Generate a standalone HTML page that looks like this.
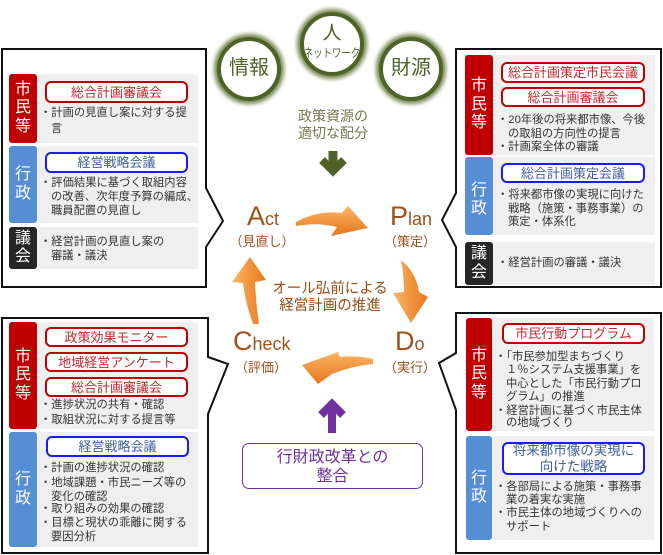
<!DOCTYPE html>
<html><head><meta charset="utf-8">
<style>
*{margin:0;padding:0}
body{width:663px;height:555px;position:relative;background:#fff;overflow:hidden;font-family:"Liberation Sans","Noto Sans CJK JP",sans-serif}
.lab{position:absolute;color:#fff;font-size:16px;line-height:18.5px;display:flex;flex-direction:column;justify-content:center;align-items:center;border-radius:3px;text-align:center}
.red{background:#c00000}
.blu{background:#558ed5}
.blk{background:#262626}
.g{position:absolute;background:#efefef}
.rb,.bb{position:absolute;border:2px solid #c00000;border-radius:6px;background:#fff;color:#c0282d;font-size:13px;line-height:15px;text-align:center;box-sizing:border-box;display:flex;align-items:center;justify-content:center;white-space:nowrap}
.bb{border-color:#1a1aff;color:#3f5f9f}
.t{position:absolute;font-size:11.3px;line-height:14px;white-space:nowrap;color:#333}
.pd{position:absolute;color:#a0501a;white-space:nowrap;line-height:1}
.big{font-size:27px}
.sm{font-size:18px}
.par{position:absolute;color:#a0501a;font-size:13px;line-height:14px;white-space:nowrap;text-align:center;width:80px}
.circ{position:absolute;color:#4f6228;text-align:center;white-space:nowrap}
</style></head><body>
<svg width="663" height="555" style="position:absolute;left:0;top:0">
<defs>
<linearGradient id="og" x1="0" y1="0" x2="0" y2="1"><stop offset="0" stop-color="#fbb565"/><stop offset="1" stop-color="#e8761c"/></linearGradient>
<linearGradient id="og2" x1="0" y1="0" x2="1" y2="0"><stop offset="0" stop-color="#fbb565"/><stop offset="1" stop-color="#e8761c"/></linearGradient>
<filter id="bl" x="-30%" y="-30%" width="160%" height="160%"><feGaussianBlur stdDeviation="2.2"/></filter>
</defs>
<!-- callouts -->
<path d="M2,49 H206 V188 L223,221 L206,247 V287 H2 Z" fill="#fff" stroke="#111" stroke-width="2"/>
<path d="M456,49 H661 V287 H456 V247 L442,220 L456,193 Z" fill="#fff" stroke="#111" stroke-width="2"/>
<path d="M2,318 H208 V357 L228,364 L208,414 V553 H2 Z" fill="#fff" stroke="#111" stroke-width="2"/>
<path d="M456,313 H661 V553 H456 V410 L439,363 L456,353 Z" fill="#fff" stroke="#111" stroke-width="2"/>
<!-- circles -->
<circle cx="249" cy="69" r="31" fill="none" stroke="#5f7330" stroke-width="8" filter="url(#bl)" opacity="0.85"/>
<circle cx="249" cy="69" r="30" fill="#fff" stroke="#4f6228" stroke-width="4"/>
<circle cx="332" cy="44" r="31" fill="none" stroke="#5f7330" stroke-width="8" filter="url(#bl)" opacity="0.85"/>
<circle cx="332" cy="44" r="30" fill="#fff" stroke="#4f6228" stroke-width="4"/>
<circle cx="411" cy="69" r="31" fill="none" stroke="#5f7330" stroke-width="8" filter="url(#bl)" opacity="0.85"/>
<circle cx="411" cy="69" r="30" fill="#fff" stroke="#4f6228" stroke-width="4"/>
<!-- green arrow -->
<path d="M333,151 V170" stroke="#4f6228" stroke-width="9" fill="none"/>
<path d="M322,160 L333,171 L344,160" stroke="#4f6228" stroke-width="8" fill="none" stroke-linejoin="miter"/>
<!-- purple arrow -->
<path d="M332,433 V410" stroke="#7030a0" stroke-width="8" fill="none"/>
<path d="M321,415 L332,404 L343,415" stroke="#7030a0" stroke-width="8" fill="none" stroke-linejoin="miter"/>
<!-- orange arrows -->
<path d="M296,222 Q318,210 342,213 L348,206 L368,228 L331,236 L337,227 Q318,222 296,226 Z" fill="url(#og)"/>
<path d="M401,260 Q416,272 419,292 L428,297 L411,323 L393,293 L404,292 Q404,275 401,260 Z" fill="url(#og2)"/>
<path d="M373,359 Q356,355 340,357 L338,352 L302,365 L318,384 L332,374 Q352,366 373,364 Z" fill="url(#og)"/>
<path d="M253,324 Q245,302 243,283 L232,282 L250,257 L266,280 L255,282 Q256,305 259,324 Z" fill="url(#og2)"/>
</svg>

<!-- circle texts -->
<div class="circ" style="left:219px;top:56px;width:60px;font-size:20px;line-height:24px">情報</div>
<div class="circ" style="left:381px;top:56px;width:60px;font-size:20px;line-height:24px">財源</div>
<div class="circ" style="left:302px;top:23px;width:60px;font-size:19px;line-height:22px">人</div>
<div class="circ" style="left:292px;top:46px;width:80px;font-size:12px;line-height:14px;transform:scaleX(0.78)">ネットワーク</div>
<div style="position:absolute;left:283px;top:108px;width:100px;text-align:center;color:#77774f;font-size:14px;line-height:16.5px">政策資源の<br>適切な配分</div>

<!-- PDCA labels -->
<div class="pd" style="left:247px;top:203px"><span class="big">A</span><span class="sm">ct</span></div>
<div class="par" style="left:222px;top:235px">（見直し）</div>
<div class="pd" style="left:390px;top:203px"><span class="big">P</span><span class="sm">lan</span></div>
<div class="par" style="left:370px;top:235px">（策定）</div>
<div class="pd" style="left:233px;top:328px"><span class="big">C</span><span class="sm">heck</span></div>
<div class="par" style="left:221px;top:361px">（評価）</div>
<div class="pd" style="left:395px;top:328px"><span class="big">D</span><span class="sm">o</span></div>
<div class="par" style="left:370px;top:361px">（実行）</div>
<div style="position:absolute;left:260px;top:281px;width:140px;text-align:center;color:#9a4a14;font-size:14.5px;line-height:17px;white-space:nowrap">オール弘前による<br>経営計画の推進</div>

<!-- purple box -->
<div style="position:absolute;left:242px;top:443px;width:181px;height:46px;box-sizing:border-box;border:1.5px solid #7030a0;border-radius:7px;color:#7030a0;font-size:16px;line-height:19px;text-align:center;padding-top:4px">行財政改革との<br>整合</div>

<!-- TOP LEFT -->
<div class="g" style="left:37px;top:74px;width:161px;height:69px"></div>
<div class="g" style="left:37px;top:146px;width:161px;height:77px"></div>
<div class="g" style="left:37px;top:227px;width:161px;height:42px"></div>
<div class="lab red" style="left:9px;top:74px;width:28px;height:69px">市<br>民<br>等</div>
<div class="lab blu" style="left:9px;top:146px;width:28px;height:77px">行<br>政</div>
<div class="lab blk" style="left:9px;top:227px;width:28px;height:42px">議<br>会</div>
<div class="rb" style="left:45px;top:81px;width:143px;height:22px">総合計画審議会</div>
<div class="t" style="left:40px;top:106px">・計画の見直し案に対する提</div>
<div class="t" style="left:51px;top:122px">言</div>
<div class="bb" style="left:45px;top:152px;width:143px;height:21px">経営戦略会議</div>
<div class="t" style="left:40px;top:176px">・評価結果に基づく取組内容</div>
<div class="t" style="left:51px;top:190px">の改善、次年度予算の編成、</div>
<div class="t" style="left:51px;top:204px">職員配置の見直し</div>
<div class="t" style="left:40px;top:235px">・経営計画の見直し案の</div>
<div class="t" style="left:51px;top:249px">審議・議決</div>

<!-- TOP RIGHT -->
<div class="g" style="left:493px;top:55px;width:162px;height:100px"></div>
<div class="g" style="left:493px;top:157px;width:162px;height:78px"></div>
<div class="g" style="left:493px;top:242px;width:162px;height:43px"></div>
<div class="lab red" style="left:465px;top:55px;width:28px;height:100px">市<br>民<br>等</div>
<div class="lab blu" style="left:465px;top:157px;width:28px;height:78px;padding-top:8px;box-sizing:border-box">行<br>政</div>
<div class="lab blk" style="left:465px;top:242px;width:28px;height:43px">議<br>会</div>
<div class="rb" style="left:501px;top:62px;width:144px;height:21px">総合計画策定市民会議</div>
<div class="rb" style="left:501px;top:87px;width:144px;height:20px">総合計画審議会</div>
<div class="t" style="left:497px;top:113px">・20年後の将来都市像、今後</div>
<div class="t" style="left:508px;top:127px">の取組の方向性の提言</div>
<div class="t" style="left:497px;top:140px">・計画案全体の審議</div>
<div class="bb" style="left:501px;top:163px;width:144px;height:20px">総合計画策定会議</div>
<div class="t" style="left:497px;top:188px">・将来都市像の実現に向けた</div>
<div class="t" style="left:508px;top:202px">戦略（施策・事務事業）の</div>
<div class="t" style="left:508px;top:215px">策定・体系化</div>
<div class="t" style="left:497px;top:256px">・経営計画の審議・議決</div>

<!-- BOTTOM LEFT -->
<div class="g" style="left:37px;top:322px;width:161px;height:107px"></div>
<div class="g" style="left:37px;top:432px;width:161px;height:115px"></div>
<div class="lab red" style="left:9px;top:322px;width:28px;height:107px">市<br>民<br>等</div>
<div class="lab blu" style="left:9px;top:432px;width:28px;height:115px">行<br>政</div>
<div class="rb" style="left:45px;top:327px;width:143px;height:20px">政策効果モニター</div>
<div class="rb" style="left:45px;top:352px;width:143px;height:20px">地域経営アンケート</div>
<div class="rb" style="left:45px;top:377px;width:143px;height:20px">総合計画審議会</div>
<div class="t" style="left:40px;top:398px">・進捗状況の共有・確認</div>
<div class="t" style="left:40px;top:413px">・取組状況に対する提言等</div>
<div class="bb" style="left:46px;top:436px;width:143px;height:21px">経営戦略会議</div>
<div class="t" style="left:40px;top:461px">・計画の進捗状況の確認</div>
<div class="t" style="left:40px;top:476px">・地域課題・市民ニーズ等の</div>
<div class="t" style="left:51px;top:490px">変化の確認</div>
<div class="t" style="left:40px;top:502px">・取り組みの効果の確認</div>
<div class="t" style="left:40px;top:516px">・目標と現状の乖離に関する</div>
<div class="t" style="left:51px;top:530px">要因分析</div>

<!-- BOTTOM RIGHT -->
<div class="g" style="left:492px;top:318px;width:162px;height:113px"></div>
<div class="g" style="left:492px;top:436px;width:162px;height:104px"></div>
<div class="lab red" style="left:466px;top:318px;width:26px;height:113px">市<br>民<br>等</div>
<div class="lab blu" style="left:466px;top:436px;width:26px;height:104px">行<br>政</div>
<div class="rb" style="left:502px;top:323px;width:143px;height:21px">市民行動プログラム</div>
<div class="t" style="left:495px;top:350px">・「市民参加型まちづくり</div>
<div class="t" style="left:506px;top:363px">１％システム支援事業」を</div>
<div class="t" style="left:506px;top:377px">中心とした「市民行動プロ</div>
<div class="t" style="left:506px;top:390px">グラム」の推進</div>
<div class="t" style="left:495px;top:404px">・経営計画に基づく市民主体</div>
<div class="t" style="left:506px;top:416px">の地域づくり</div>
<div class="bb" style="left:502px;top:442px;width:143px;height:33px;font-size:13.5px;line-height:16px">将来都市像の実現に<br>向けた戦略</div>
<div class="t" style="left:495px;top:480px">・各部局による施策・事務事</div>
<div class="t" style="left:506px;top:493px">業の着実な実施</div>
<div class="t" style="left:495px;top:506px">・市民主体の地域づくりへの</div>
<div class="t" style="left:506px;top:520px">サポート</div>
</body></html>
